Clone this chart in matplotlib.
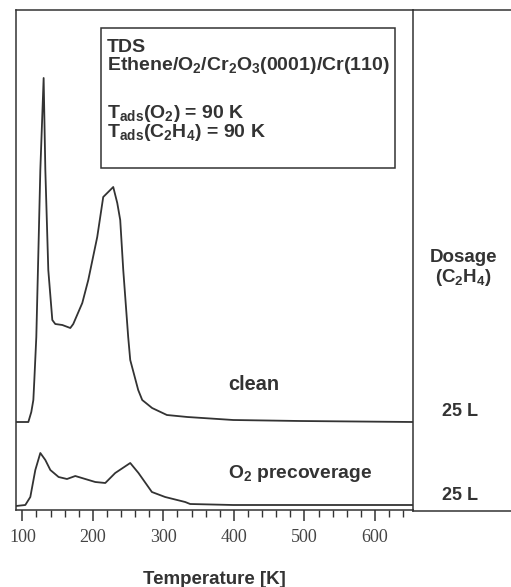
import numpy as np
import matplotlib
matplotlib.use("Agg")
import matplotlib.pyplot as plt
from matplotlib.lines import Line2D
from matplotlib.patches import Rectangle

# TDS traces (signal height above each trace's baseline, a.u.)
temp_clean = [91, 108.5, 112.7, 115.6, 117, 119.8, 122.7, 125.5, 130.2, 132.6, 136.8,
              142.5, 146.7, 156.7, 168, 172.2, 185, 193.5, 206.2, 214.7, 221.8, 228.9,
              234.6, 238.8, 243.1, 250.1, 253, 264.3, 270, 284, 305, 334, 399, 494, 654]
sig_clean = [0, 0, 10, 22, 42, 85, 169, 252, 344, 252, 152,
             102, 98, 97, 94, 98, 119, 142, 185, 225, 230, 235,
             219, 202, 152, 85, 62, 32, 22, 14, 7, 5, 2, 1, 0]

temp_o2 = [91, 104.2, 111.3, 118.4, 125.5, 132.6, 139.7, 151.4, 163.3, 175.1, 189.2,
           203.4, 217.6, 231.7, 253, 264.7, 283.7, 302.5, 330.9, 338, 398.9, 654]
sig_o2 = [0, 1, 9, 36, 53, 46, 36, 29, 27, 30, 27,
          24, 23, 33, 43, 33, 14, 9, 4, 2, 1, 1]

offset_clean = 88
offset_o2 = 4

trace_labels = ["clean", r"O$_2$ precoverage"]
dosages = ["25 L", "25 L"]
xticks_major = [100, 200, 300, 400, 500, 600]

W, H = 511, 587
ink = "#333333"

plt.rcParams['mathtext.fontset'] = 'custom'
plt.rcParams['mathtext.rm'] = 'Liberation Sans:bold'
plt.rcParams['mathtext.it'] = 'Liberation Sans:bold'
plt.rcParams['mathtext.bf'] = 'Liberation Sans:bold'


def fx(x):
    return x / W


def fy(y):
    return 1 - y / H


fig = plt.figure(figsize=(W / 100, H / 100), dpi=100)
ax = fig.add_axes([fx(16), fy(510), fx(413) - fx(16), fy(10) - fy(510)])

ax.plot(temp_clean, np.array(sig_clean) + offset_clean, color=ink, lw=1.3,
        solid_joinstyle='round')
ax.plot(temp_o2, np.array(sig_o2) + offset_o2, color=ink, lw=1.3,
        solid_joinstyle='round')

ax.set_xlim(91, 654)
ax.set_ylim(0, 500)
ax.set_yticks([])
ax.set_xticks(xticks_major)
ax.set_xticks(np.arange(100, 654, 20), minor=True)
ax.tick_params(axis='x', which='major', direction='out', length=8, width=1.1,
               color=ink, pad=6, labelsize=13, labelcolor='#444444')
ax.tick_params(axis='x', which='minor', direction='out', length=5, width=1.0, color=ink)
for lab in ax.get_xticklabels():
    lab.set_fontfamily('Liberation Serif')
for sp in ax.spines.values():
    sp.set_color(ink)
    sp.set_linewidth(1.1)

ax.set_xlabel("Temperature [K]", fontfamily='Liberation Sans', fontweight='bold',
              fontsize=13.5, color=ink, labelpad=18)

# right-hand dosage panel
fig.add_artist(Line2D([fx(413), fx(511)], [fy(10), fy(10)], color=ink, lw=1.1))
fig.add_artist(Line2D([fx(413), fx(511)], [fy(511), fy(511)], color=ink, lw=1.1))
fig.add_artist(Line2D([fx(413), fx(413)], [fy(510), fy(511)], color=ink, lw=1.1))

txt = dict(fontfamily='Liberation Sans', fontweight='bold', color=ink)

# legend box
fig.add_artist(Rectangle((fx(101), fy(168)), fx(395) - fx(101), fy(28) - fy(168),
                         transform=fig.transFigure, fill=False, ec=ink, lw=1.1))
fig.text(fx(107), fy(52), "TDS", fontsize=14, va='baseline', **txt)
fig.text(fx(107), fy(70), r"Ethene/O$_2$/Cr$_2$O$_3$(0001)/Cr(110)", fontsize=14,
         va='baseline', **txt)
fig.text(fx(107), fy(137), "T$_{ads}$(O$_2$) = 90 K\nT$_{ads}$(C$_2$H$_4$) = 90 K",
         fontsize=14, va='baseline', linespacing=0.9, **txt)

fig.text(fx(228), fy(390), trace_labels[0], fontsize=14.4, va='baseline', **txt)
fig.text(fx(228), fy(478), trace_labels[1], fontsize=13.9, va='baseline', **txt)

fig.text(fx(463), fy(258), "Dosage", fontsize=13.5, ha='center', va='center', **txt)
fig.text(fx(463), fy(278), r"(C$_2$H$_4$)", fontsize=13.5, ha='center', va='center', **txt)
fig.text(fx(460), fy(412), dosages[0], fontsize=13, ha='center', va='center', **txt)
fig.text(fx(460), fy(495), dosages[1], fontsize=13, ha='center', va='center', **txt)

fig.savefig("out.png", dpi=100, facecolor='white')
